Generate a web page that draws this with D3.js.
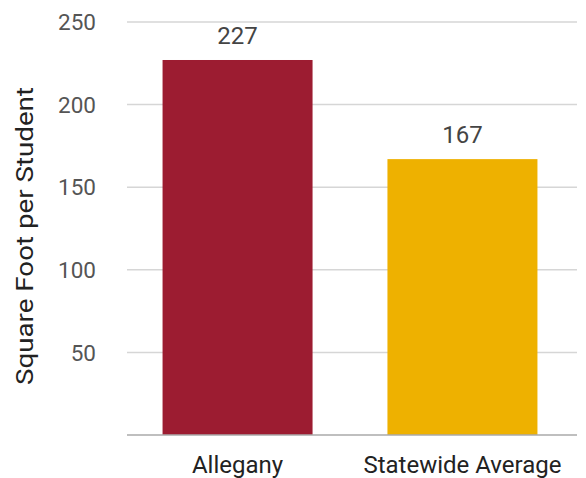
<!DOCTYPE html>
<html>
<head>
<meta charset="utf-8">
<script src="https://cdn.jsdelivr.net/npm/d3@7"></script>
<style>
  body { margin: 0; background: #fff; }
  svg { font-family: Roboto, "Noto Sans", sans-serif; }
</style>
</head>
<body>
<div id="chart"></div>
<script>
const categories = ['Allegany', 'Statewide Average'];
const values = [227, 167];
const barColors = ['#9c1c31', '#eeb100'];
const yTicks = [0, 50, 100, 150, 200, 250];
const yTitle = 'Square Foot per Student';

const W = 586, H = 478;
const margin = {top: 22, right: 9, bottom: 43, left: 127};

const svg = d3.select('#chart').append('svg')
    .attr('width', W)
    .attr('height', H);

const x = d3.scaleBand()
    .domain(categories)
    .range([margin.left - 2, W - margin.right - 2])
    .paddingInner(0.333)
    .paddingOuter(0.167);

const y = d3.scaleLinear()
    .domain([0, 250])
    .range([H - margin.bottom, margin.top]);

// grid
svg.append('g')
    .selectAll('line')
    .data(yTicks.filter(d => d > 0))
    .enter()
    .append('line')
    .attr('x1', margin.left)
    .attr('x2', W - margin.right)
    .attr('y1', d => y(d))
    .attr('y2', d => y(d))
    .attr('stroke', '#d6d6d6')
    .attr('stroke-width', 1.5);

// tick labels
svg.append('g')
    .selectAll('text')
    .data(yTicks.filter(d => d > 0))
    .enter()
    .append('text')
    .attr('x', 96)
    .attr('y', d => y(d))
    .attr('dy', '0.36em')
    .attr('text-anchor', 'end')
    .style('font-size', '22.5px')
    .style('fill', '#555')
    .text(d => d);

// bars
svg.append('g')
    .selectAll('rect')
    .data(values)
    .enter()
    .append('rect')
    .attr('x', (d, i) => x(categories[i]))
    .attr('y', d => y(d))
    .attr('width', x.bandwidth())
    .attr('height', d => y(0) - y(d))
    .attr('fill', (d, i) => barColors[i]);

// baseline
svg.append('line')
    .attr('x1', margin.left)
    .attr('x2', W - margin.right)
    .attr('y1', y(0))
    .attr('y2', y(0))
    .attr('stroke', '#aaa')
    .attr('stroke-width', 1.5);

// value labels
svg.append('g')
    .selectAll('text')
    .data(values)
    .enter()
    .append('text')
    .attr('x', (d, i) => x(categories[i]) + x.bandwidth() / 2)
    .attr('y', d => y(d) - 16)
    .attr('text-anchor', 'middle')
    .style('font-size', '24px')
    .style('fill', '#444')
    .text(d => d);

// category labels
svg.append('g')
    .selectAll('text')
    .data(categories)
    .enter()
    .append('text')
    .attr('x', d => x(d) + x.bandwidth() / 2)
    .attr('y', 473)
    .attr('text-anchor', 'middle')
    .style('font-size', '24px')
    .style('fill', '#222')
    .text(d => d);

// y title
svg.append('text')
    .attr('transform', 'translate(33,236) rotate(-90)')
    .attr('text-anchor', 'middle')
    .attr('textLength', 298)
    .attr('lengthAdjust', 'spacingAndGlyphs')
    .style('font-size', '23px')
    .style('fill', '#222')
    .text(yTitle);
</script>
</body>
</html>
